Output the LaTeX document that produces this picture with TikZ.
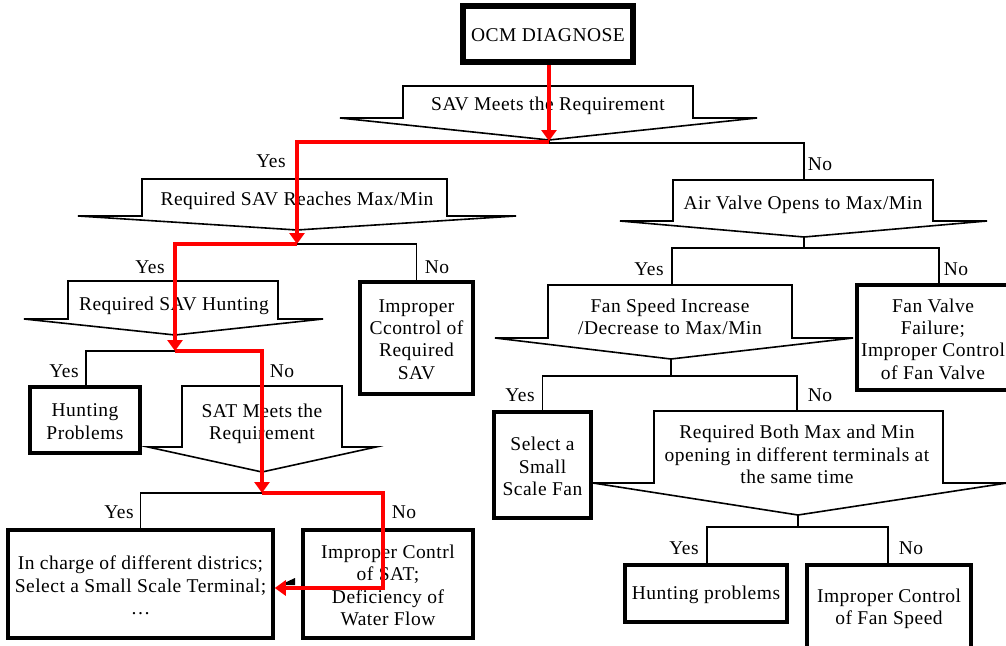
\documentclass[tikz,border=0pt]{standalone}
\usepackage{fontspec}
\setmainfont{Liberation Serif}[LetterSpace=2.5]
\usetikzlibrary{arrows.meta,calc}
\newcommand\mydec[9]{%
  \draw[decline] (#2,#5) -- (#2,#4) -- (#3,#4) -- (#3,#5) -- (#7,#5) -- (#8,#9) -- (#6,#5) -- cycle;
  \coordinate (#1-tip) at (#8,#9);
  \coordinate (#1-in) at (#8,#4);
}
\begin{document}
\begin{tikzpicture}[x=1pt,y=-1pt,
  every node/.style={font=\fontsize{19.5}{22.3}\selectfont, inner sep=0pt, align=center},
  decline/.style={line width=1.6pt, line join=miter},
  conn/.style={line width=1.3pt},
  resbox/.style={draw, line width=3.5pt, fill=white},
  topbox/.style={draw, line width=6pt, fill=white},
  txt/.style={yshift=-1.5pt},
  lbl/.style={yshift=-1pt},
  redpath/.style={draw=red, line width=4.5pt, -{Triangle[length=11pt,width=15pt]}, red}
]
\useasboundingbox (0,0) rectangle (1006,645);
\fill[white] (0,0) rectangle (1006,645);

% start box
\node[topbox, minimum width=170pt, minimum height=56pt] (ocm) at (548,34) {};
\node[txt] (ocmt) at (ocm) {OCM DIAGNOSE};

% decision shapes
\mydec{d1}{403}{693}{86}{118}{340}{757}{549}{140}
\node[txt] (t1) at (548,104) {SAV Meets the Requirement};
\mydec{d2}{142}{447}{179}{216}{78}{516}{297}{230}
\node[txt] (t2) at (297,199) {Required SAV Reaches Max/Min};
\mydec{d3}{673}{933}{180}{221}{620}{987}{804}{237}
\node[txt] (t3) at (803,203) {Air Valve Opens to Max/Min};
\mydec{d4}{68}{278}{281}{319}{24}{323}{175}{335}
\node[txt] (t4) at (174,304) {Required SAV Hunting};
\mydec{d5}{182}{342}{386}{447}{148}{376}{262}{472}
\node[txt] (t5) at (262,422) {SAT Meets the\\Requirement};
\mydec{d6}{548}{792}{285}{338}{495}{853}{671}{359}
\node[txt] (t6) at (670,315) {Fan Speed Increase\\/Decrease to Max/Min};
\mydec{d7}{654}{943}{411}{483}{593}{1007}{798}{515}
\node[txt] (t7) at (797,453) {Required Both Max and Min\\opening in different terminals at\\the same time};

% result boxes
\node[resbox, minimum width=113pt, minimum height=112pt] (impsav) at (416.5,338) {};
\node[txt] at (impsav) {Improper\\Ccontrol of\\Required\\SAV};
\node[resbox, minimum width=110pt, minimum height=66pt] (hunt) at (85,420) {};
\node[txt] at (hunt) {Hunting\\Problems};
\node[resbox, minimum width=265pt, minimum height=108pt] (charge) at (140.5,584) {};
\node[txt] at (charge) {In charge of different districs;\\Select a Small Scale Terminal;\\\ldots};
\node[resbox, minimum width=170pt, minimum height=108pt] (contrl) at (388,584) {};
\node[txt] at (contrl) {Improper Contrl\\of SAT;\\Deficiency of\\Water Flow};
\node[resbox, minimum width=152pt, minimum height=105pt] (fanvalve) at (933,337.5) {};
\node[txt] at (fanvalve) {Fan Valve\\Failure;\\Improper Control\\of Fan Valve};
\node[resbox, minimum width=97pt, minimum height=106pt] (smallfan) at (542.5,465) {};
\node[txt] at (smallfan) {Select a\\Small\\Scale Fan};
\node[resbox, minimum width=162pt, minimum height=57pt] (huntp) at (706,593.5) {};
\node[txt] at (huntp) {Hunting problems};
\node[resbox, minimum width=164pt, minimum height=85pt] (fanspeed) at (889,607.5) {};
\node[txt] at (fanspeed) {Improper Control\\of Fan Speed};

% branch points
\coordinate (b1) at (549,143);
\coordinate (b2) at (297,244);
\coordinate (b3) at (804,248);
\coordinate (b4) at (175,351);
\coordinate (b5) at (262,493);
\coordinate (b6) at (671,376);
\coordinate (b7) at (798,527);
\coordinate (rc) at (383,588);

% black connectors
\draw[conn] (d1-tip) -- (b1);
\draw[conn] (d2-in) |- (b1) -| (d3-in);
\draw[conn] (d2-tip) -- (b2);
\draw[conn] (d4-in) |- (b2) -| (impsav.north);
\draw[conn] (d3-tip) -- (b3);
\draw[conn] ($(d6-in)+(1,0)$) |- (b3) -| ([xshift=6pt]fanvalve.north);
\draw[conn] (d4-tip) -- (b4);
\draw[conn] ([xshift=1pt]hunt.north) |- (b4) -| (d5-in);
\draw[conn] (d5-tip) -- (b5);
\draw[conn] (charge.north) |- (b5) -| ([xshift=-5pt]contrl.north);
\draw[conn] (d6-tip) -- (b6);
\draw[conn] (smallfan.north) |- (b6) -| ([xshift=-1pt]d7-in);
\draw[conn] (d7-tip) -- (b7);
\draw[conn] ([xshift=1pt]huntp.north) |- (b7) -| ([xshift=-1pt]fanspeed.north);

% labels
\node[lbl] (y1) at (271,160) {Yes};
\node[lbl] (n1) at (820,163) {No};
\node[lbl] (y2) at (150,266) {Yes};
\node[lbl] (n2) at (437,266) {No};
\node[lbl] (y3) at (649,268) {Yes};
\node[lbl] (n3) at (956,268) {No};
\node[lbl] (y4) at (64,370) {Yes};
\node[lbl] (n4) at (282,370) {No};
\node[lbl] (y5) at (119,511) {Yes};
\node[lbl] (n5) at (404,511) {No};
\node[lbl] (y6) at (520,394) {Yes};
\node[lbl] (n6) at (820,394) {No};
\node[lbl] (y7) at (684,547) {Yes};
\node[lbl] (n7) at (911,547) {No};

% small black arrowhead
\fill (280,585) -- (295,578) -- (295,585) -- cycle;

% red diagnosis path
\draw[redpath] (ocm.south -| b1) -- ([yshift=2pt]b1);
\draw[redpath] ([yshift=1pt]b1) -| (b2);
\draw[redpath] (b2) -| (b4);
\draw[redpath] (b4) -| (b5);
\draw[redpath] (b5) -| (rc) -- (rc -| charge.east);
\end{tikzpicture}
\end{document}
